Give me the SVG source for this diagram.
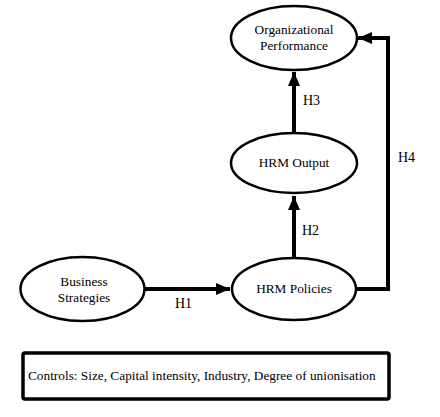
<svg xmlns="http://www.w3.org/2000/svg" width="440" height="417" viewBox="0 0 440 417">
<defs>
<style>
.node{fill:#fff;stroke:#000;stroke-width:2.5}
.lbl{font-size:13.3px;fill:#000;text-anchor:middle}
.h{font-size:14px;fill:#000}
.edge{fill:none;stroke:#000;stroke-width:4}
</style>
<marker id="ah" markerWidth="14" markerHeight="12" refX="14" refY="6" orient="auto" markerUnits="userSpaceOnUse">
<path d="M0,0 L14,6 L0,12 Z" fill="#000"/>
</marker>
</defs>
<rect width="440" height="417" fill="#fff"/>
<g font-family="Liberation Serif, Times New Roman, DejaVu Serif, serif">
<g id="connectors">
<path class="edge" d="M145,289 L230,289" stroke-width="3" marker-end="url(#ah)"/>
<path class="edge" d="M294,258 L294,196" marker-end="url(#ah)"/>
<path class="edge" d="M294,133 L294,72" marker-end="url(#ah)"/>
<path class="edge" d="M356,289 L388,289 L388,38 L358,38" stroke-width="4.5" stroke-linejoin="miter" marker-end="url(#ah)"/>
<text class="h" x="175" y="308">H1</text>
<text class="h" x="302" y="235">H2</text>
<text class="h" x="303" y="105">H3</text>
<text class="h" x="398" y="162">H4</text>
</g>
<g id="org-performance">
<ellipse class="node" cx="294" cy="38" rx="63" ry="32"/>
<text class="lbl" x="294" y="34">Organizational</text>
<text class="lbl" x="294" y="50">Performance</text>
</g>
<g id="hrm-output">
<ellipse class="node" cx="294" cy="163" rx="63" ry="30"/>
<text class="lbl" x="294" y="167">HRM Output</text>
</g>
<g id="business-strategies">
<ellipse class="node" cx="82.5" cy="289" rx="62" ry="32"/>
<text class="lbl" x="84" y="286">Business</text>
<text class="lbl" x="84" y="302">Strategies</text>
</g>
<g id="hrm-policies">
<ellipse class="node" cx="294" cy="289" rx="62" ry="31"/>
<text class="lbl" x="294" y="293">HRM Policies</text>
</g>
<g id="controls">
<rect x="23" y="353" width="366" height="46" rx="2" fill="#fff" stroke="#000" stroke-width="3.5"/>
<text class="lbl" x="28" y="380" text-anchor="start" style="text-anchor:start">Controls: Size, Capital intensity, Industry, Degree of unionisation</text>
</g>
</g>
</svg>
